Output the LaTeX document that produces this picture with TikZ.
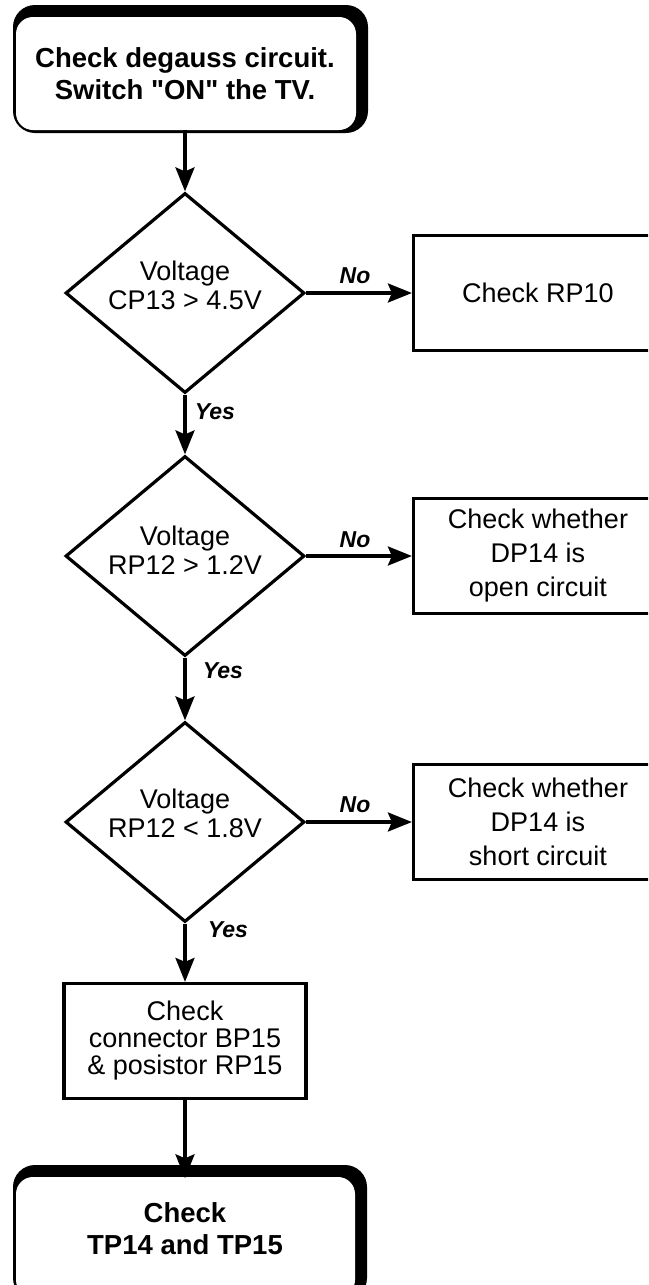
\documentclass[tikz,border=0pt]{standalone}
\usepackage{fontspec}
\setmainfont{Liberation Sans}[Ligatures=TeXOff]
\usetikzlibrary{shapes.geometric,arrows.meta}

\begin{document}
\begin{tikzpicture}[x=1pt,y=-1pt,
  procbox/.style={draw, line width=3.2pt, minimum width=249pt, minimum height=115pt,
    inner sep=0pt, align=center, font=\fontsize{27}{34}\selectfont},
  decision/.style={draw, diamond, line width=3.2pt, minimum width=239pt,
    minimum height=200pt, inner sep=0pt, shape aspect=1.2},
  dectext/.style={align=center, inner sep=0pt, font=\fontsize{27}{29}\selectfont},
  termtext/.style={align=center, inner sep=0pt, minimum width=340pt,
    font=\fontsize{27.5}{32}\selectfont\bfseries},
  flow/.style={line width=3.2pt, -{Stealth[length=24pt,width=19pt,inset=4pt]}},
  answer/.style={inner sep=0pt, font=\fontsize{23}{23}\selectfont\bfseries\itshape},
]
\useasboundingbox (0,0) rectangle (648,1285);
\clip (0,0) rectangle (648,1285);

% start terminal: heavy top and right edges
\fill[rounded corners=22pt] (13,5) rectangle (368,133);
\fill[white, rounded corners=17pt] (16,17) rectangle (356,130);
\node[termtext, minimum height=113pt] (start) at (185,73.5)
  {Check degauss circuit.\\Switch "ON" the TV.};

% decisions
\node[decision] (d1) at (185,293) {};
\node[dectext] (d1t) at (185,285) {Voltage\\CP13 > 4.5V};
\node[decision] (d2) at (185,556) {};
\node[dectext] (d2t) at (185,550) {Voltage\\RP12 > 1.2V};
\node[decision] (d3) at (185,822) {};
\node[dectext] (d3t) at (185,813) {Voltage\\RP12 < 1.8V};

% outcome boxes on the right
\node[procbox] (r1) at (538,293) {Check RP10};
\node[procbox] (r2) at (538,556) {Check whether\\DP14 is\\open circuit};
\node[procbox] (r3) at (538,822) {Check whether\\DP14 is\\short circuit};

% final check box
\node[procbox, minimum width=242pt, font=\fontsize{27}{27}\selectfont]
  (b4) at (185,1041) {Check\\connector BP15\\\& posistor RP15};

% end terminal
\fill[rounded corners=22pt] (13,1165) rectangle (367,1300);
\fill[white, rounded corners=17pt] (16,1177) rectangle (355,1297);
\node[termtext, minimum height=100pt] (finish) at (185,1228.5)
  {Check\\TP14 and TP15};

% connectors
\draw[flow] (start) -- (d1);
\draw[flow] (d1) -- (d2);
\draw[flow] (d2) -- (d3);
\draw[flow] (d3) -- (b4);
\draw[flow] (b4) -- (finish);
\draw[flow] (d1) -- (r1);
\draw[flow] (d2) -- (r2);
\draw[flow] (d3) -- (r3);

% branch labels
\node[answer] (no1) at (355,276) {No};
\node[answer] (no2) at (355,540) {No};
\node[answer] (no3) at (355,805) {No};
\node[answer] (yes1) at (215,412) {Yes};
\node[answer] (yes2) at (223,671) {Yes};
\node[answer] (yes3) at (228,930) {Yes};
\end{tikzpicture}
\end{document}
